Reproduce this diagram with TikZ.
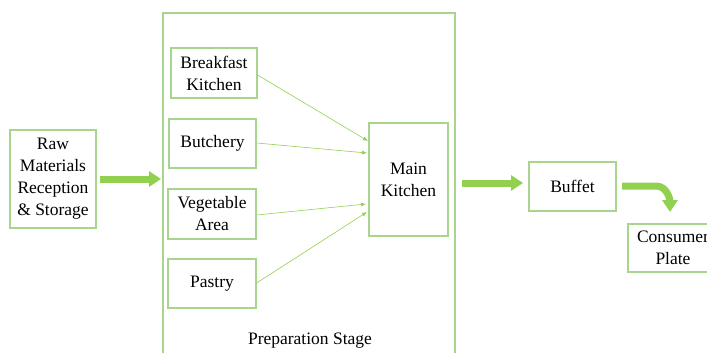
\documentclass[tikz,border=0pt]{standalone}
\usepackage{fontspec}
\setmainfont{Liberation Serif}
\usetikzlibrary{arrows.meta}
\definecolor{gbox}{RGB}{169,212,140}
\definecolor{garr}{RGB}{146,208,80}
\tikzset{
  box/.style={draw=gbox, line width=1.3pt, inner sep=0pt, align=center, font=\fontsize{17.5}{22}\selectfont, anchor=center},
  thin/.style={draw=garr, line width=0.6pt, -{Latex[length=5pt,width=4pt]}},
  thick/.style={draw=garr, line width=7pt, -{Triangle[length=12pt,width=15pt]}},
}
\begin{document}
\begin{tikzpicture}[x=1pt,y=-1pt]
\useasboundingbox (0,0) rectangle (707,353);
\clip (0,0) rectangle (707,353);
\node[box, minimum width=86pt, minimum height=98pt] (raw) at (53,179) {Raw\\Materials\\Reception\\\& Storage};
\node[box, minimum width=292pt, minimum height=350pt] (prep) at (309,188) {};
\node[font=\fontsize{17.5}{22}\selectfont] (preplabel) at (310,341) {Preparation Stage};
\node[box, minimum width=86pt, minimum height=50pt] (bk) at (214,73) {Breakfast\\Kitchen};
\node[box, minimum width=87pt, minimum height=49pt] (bu) at (212.5,143.5) {Butchery};
\node[box, minimum width=88pt, minimum height=50pt] (ve) at (212,214) {Vegetable\\Area};
\node[box, minimum width=88pt, minimum height=49pt] (pa) at (212,283.5) {Pastry};
\node[box, minimum width=79pt, minimum height=113pt] (mk) at (408.5,179.5) {Main\\Kitchen};
\node[box, minimum width=87pt, minimum height=49pt] (bf) at (572.5,186.5) {Buffet};
\node[box, minimum width=90pt, minimum height=48pt, text width=90pt] (cp) at (673,248) {Consumer\\Plate};
\coordinate (a1s) at (100,179);
\coordinate (a1e) at (161,179);
\coordinate (a2s) at (462,183);
\coordinate (a2e) at (523,183);
\coordinate (a3s) at (622,186);
\coordinate (a3e) at (670,212);
\draw[thick] (a1s) -- (a1e);
\draw[thick] (a2s) -- (a2e);
\draw[thick] (a3s) -- (656,186) to[out=0,in=90] (a3e);
\draw[thin] (bk.east |- 0,75) -- (368,141);
\draw[thin] (bu.east |- 0,143) -- (367,153);
\draw[thin] (ve.east |- 0,215) -- (366,204);
\draw[thin] (pa.east |- 0,283) -- (367,212);
\end{tikzpicture}
\end{document}
